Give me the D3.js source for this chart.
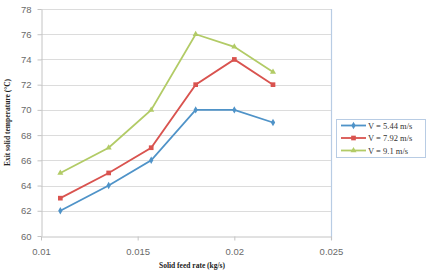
<!DOCTYPE html>
<html>
<head>
<meta charset="utf-8">
<script src="https://cdn.jsdelivr.net/npm/d3@7"></script>
<style>
  body { margin: 0; background: #fff; }
  svg { display: block; }
</style>
</head>
<body>
<div id="chart"></div>
<script>
// data
var feedRate = [0.011, 0.0135, 0.0157, 0.018, 0.02, 0.022];
var temp544 = [62, 64, 66, 70, 70, 69];
var temp792 = [63, 65, 67, 72, 74, 72];
var temp91 = [65, 67, 70, 76, 75, 73];
var xTicks = [0.01, 0.015, 0.02, 0.025];
var yTicks = [60, 62, 64, 66, 68, 70, 72, 74, 76, 78];
var seriesNames = ["V = 5.44 m/s", "V = 7.92 m/s", "V = 9.1 m/s"];

var W = 431, H = 279;
var mLeft = 41, mRight = 331, mTop = 9, mBottom = 236;

var svg = d3.select("#chart").append("svg")
  .attr("width", W).attr("height", H);

var x = d3.scaleLinear().domain([0.01, 0.025]).range([mLeft, mRight]);
var y = d3.scaleLinear().domain([60, 78]).range([mBottom, mTop]);

//Gridlines
svg.selectAll("line.grid")
  .data(yTicks.slice(1))
  .enter().append("line")
  .attr("x1", mLeft).attr("x2", mRight)
  .attr("y1", function(d) { return Math.round(y(d)) + 0.5; })
  .attr("y2", function(d) { return Math.round(y(d)) + 0.5; })
  .style("stroke", "#dcdcdc").style("stroke-width", 1);

//Right edge line
svg.append("line")
  .attr("x1", mRight + 0.5).attr("x2", mRight + 0.5)
  .attr("y1", mTop).attr("y2", mBottom + 4)
  .style("stroke", "#b8cce4").style("stroke-width", 1.2);

//Axes
var yAxis = svg.append("g")
  .attr("transform", "translate(" + (mLeft + 0.5) + ",0)")
  .call(d3.axisLeft(y).tickValues(yTicks).tickSize(4).tickSizeOuter(0));
var xAxis = svg.append("g")
  .attr("transform", "translate(0," + (mBottom + 0.5) + ")")
  .call(d3.axisBottom(x).tickValues(xTicks).tickSize(4).tickSizeOuter(0)
    .tickFormat(function(d) { return d3.format("~g")(d); }));

[xAxis, yAxis].forEach(function(a) {
  a.selectAll("path, line").style("stroke", "#c4c4c4");
  a.selectAll("text")
    .style("fill", "#6a6a6a")
    .style("font-family", "Liberation Sans, Arial, sans-serif")
    .style("font-size", "9.5px");
});
yAxis.selectAll("text").attr("x", -10);
xAxis.selectAll("text").attr("y", 12);

//Axis titles
svg.append("text")
  .attr("x", (mLeft + mRight) / 2 + 6).attr("y", 268)
  .attr("text-anchor", "middle")
  .style("font-family", "Liberation Serif, Times New Roman, serif")
  .style("font-weight", "bold").style("font-size", "7.5px")
  .style("fill", "#222")
  .text("Solid feed rate (kg/s)");
svg.append("text")
  .attr("transform", "translate(10," + ((mTop + mBottom) / 2) + ") rotate(-90)")
  .attr("text-anchor", "middle")
  .style("font-family", "Liberation Serif, Times New Roman, serif")
  .style("font-weight", "bold").style("font-size", "7.5px")
  .style("fill", "#222")
  .text("Exit solid temperature (°C)");

var series = [
  { name: seriesNames[0], values: temp544, color: "#4f93c8", shape: d3.symbolDiamond, size: 16 },
  { name: seriesNames[1], values: temp792, color: "#d9534f", shape: d3.symbolSquare, size: 22 },
  { name: seriesNames[2], values: temp91, color: "#b2cb66", shape: d3.symbolTriangle, size: 16 }
];

var line = d3.line()
  .x(function(d) { return x(d[0]); })
  .y(function(d) { return y(d[1]); });

series.forEach(function(s) {
  var pts = feedRate.map(function(f, i) { return [f, s.values[i]]; });
  svg.append("path")
    .datum(pts)
    .attr("d", line)
    .style("fill", "none")
    .style("stroke", s.color)
    .style("stroke-width", 1.8);
  svg.selectAll(null)
    .data(pts)
    .enter().append("path")
    .attr("d", d3.symbol().type(s.shape).size(s.size))
    .attr("transform", function(d) { return "translate(" + x(d[0]) + "," + y(d[1]) + ")"; })
    .style("fill", s.color);
});

//Legend
var lg = svg.append("g").attr("transform", "translate(336,119)");
lg.append("rect")
  .attr("x", 0.5).attr("y", 0.5).attr("width", 89).attr("height", 38)
  .style("fill", "#fff").style("stroke", "#b8cce4");
series.forEach(function(s, i) {
  var cy = 6.5 + i * 12.5;
  lg.append("line")
    .attr("x1", 5).attr("x2", 30).attr("y1", cy).attr("y2", cy)
    .style("stroke", s.color).style("stroke-width", 1.8);
  lg.append("path")
    .attr("d", d3.symbol().type(s.shape).size(s.size)())
    .attr("transform", "translate(17.5," + cy + ")")
    .style("fill", s.color);
  lg.append("text")
    .attr("x", 32).attr("y", cy + 3)
    .style("font-family", "Liberation Serif, Times New Roman, serif")
    .style("font-size", "8.5px")
    .style("fill", "#333")
    .text(s.name);
});
</script>
</body>
</html>
